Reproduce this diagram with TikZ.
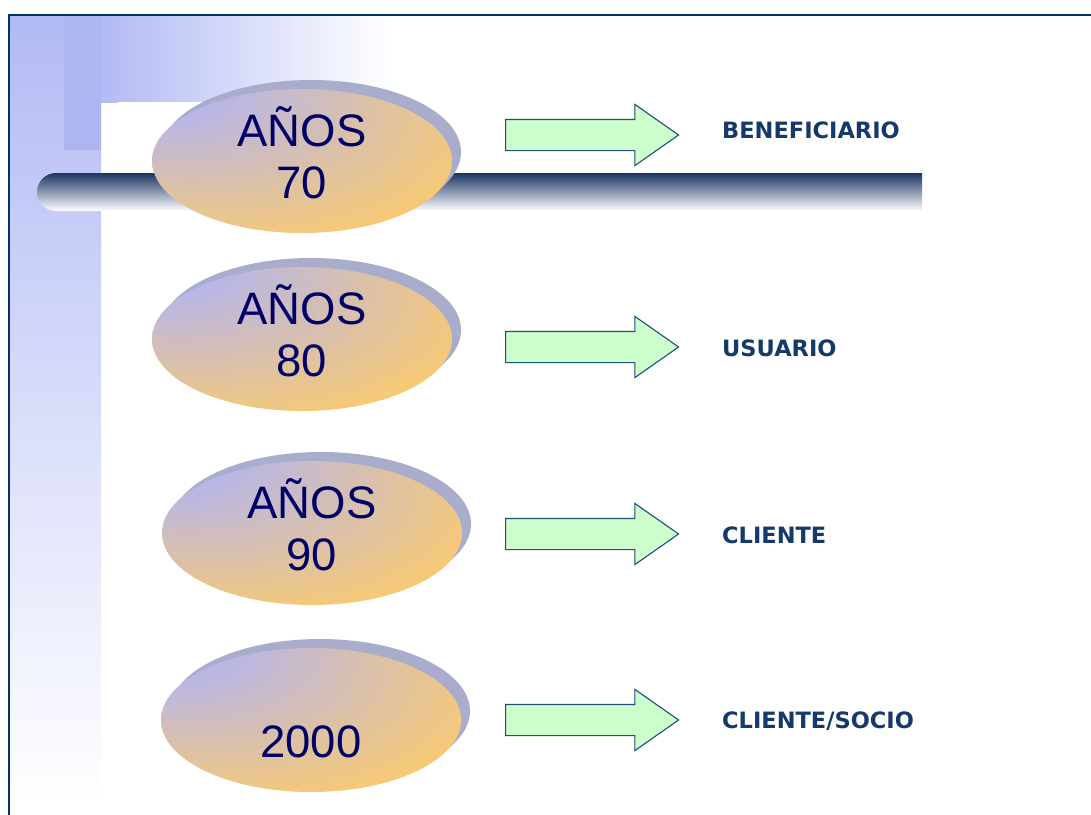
\documentclass[tikz,border=0pt]{standalone}
\usepackage{fontspec}
\setmainfont{Liberation Sans}
\newfontfamily\rolefont{DejaVu Sans}
\usetikzlibrary{shapes.geometric,shapes.arrows,positioning}
\definecolor{framec}{HTML}{003366}
\definecolor{stripblue}{HTML}{B2BAF4}
\definecolor{blockblue}{HTML}{AEB6F2}
\definecolor{barnavy}{HTML}{1B3564}
\definecolor{lav}{HTML}{B2B4F4}
\definecolor{org}{HTML}{FFCC66}
\definecolor{shadowc}{HTML}{A9ADCB}
\definecolor{yeartext}{HTML}{000066}
\definecolor{arrfill}{HTML}{CCFFCC}
\definecolor{arrline}{HTML}{1F4E79}
\definecolor{rolec}{HTML}{15396A}
\pgfdeclareradialshading{yearshade}{\pgfpoint{-33bp}{35bp}}{color(0bp)=(lav);color(10bp)=(lav);color(44bp)=(org);color(60bp)=(org)}

\begin{document}
\begin{tikzpicture}[
  x=1pt,y=-1pt,
  yearell/.style={ellipse,minimum width=300pt,minimum height=144pt,inner sep=0pt,shade,shading=yearshade},
  ellshadow/.style={ellipse,fill=shadowc,minimum width=300pt,minimum height=144pt,inner sep=0pt},
  yeartxt/.style={font=\fontsize{45.5}{50}\selectfont,text=yeartext,inner sep=0pt,anchor=base},
  blockarr/.style={single arrow,draw=arrline,fill=arrfill,line width=1.1pt,minimum height=173pt,single arrow head extend=15pt,single arrow tip angle=70,single arrow head indent=0pt,inner xsep=0pt,inner ysep=15pt,anchor=tail},
  rolelbl/.style={font=\rolefont\bfseries\fontsize{22.5}{26}\selectfont,text=rolec,anchor=west,inner sep=0pt}
]
\useasboundingbox (0,0) rectangle (1091,814);
% slide background
\shade[top color=stripblue,bottom color=white] (9,15) rectangle (101,800);
\shade[left color=stripblue,right color=white] (100,15) rectangle (390,102);
\fill[blockblue] (64,15) rectangle (101,150);
\fill[white,rounded corners=20pt] (102,102) rectangle (1120,840);
\draw[framec,line width=2pt] (9,830) -- (9,15) -- (1100,15);
\shade[top color=barnavy,bottom color=white] (922,173) -- (56,173) arc[start angle=90,end angle=270,radius=19pt] -- (922,211) -- cycle;
% periods and roles
\foreach \i/\cx/\cy/\ya/\yb/\ay/\ly/\role in {1/302/161/AÑOS/70/135/130/BENEFICIARIO,2/302/339/AÑOS/80/347/348/USUARIO,3/312/533/AÑOS/90/534/535/CLIENTE,4/311/720/{}/2000/720/721/{CLIENTE/SOCIO}} {
  \node[ellshadow] (s\i) at (\cx+9,\cy-9) {};
  \node[yearell] (e\i) at (\cx,\cy) {};
  \node[yeartxt] (t\i) at ([yshift=14.5pt]e\i.center) {\ya};
  \node[yeartxt] (b\i) at ([yshift=-37pt]e\i.center) {\yb};
  \node[blockarr] (a\i) at (505,\ay) {};
  \node[rolelbl] (r\i) at (722,\ly) {\role};
}
\end{tikzpicture}
\end{document}
